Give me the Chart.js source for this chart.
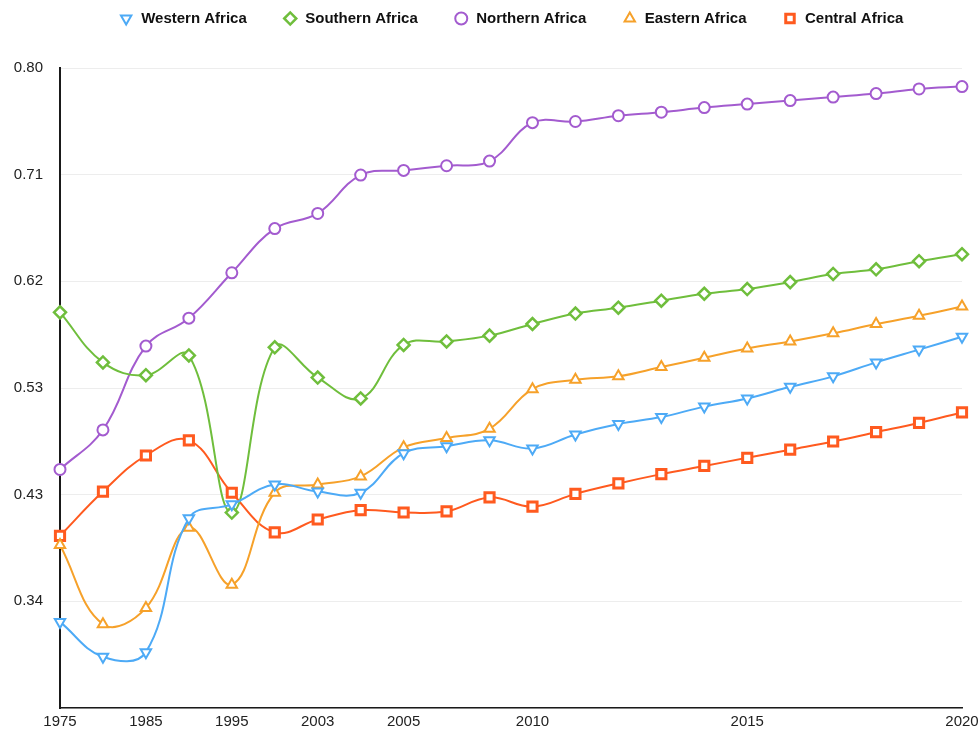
<!DOCTYPE html>
<html>
<head>
<meta charset="utf-8">
<script src="https://cdn.jsdelivr.net/npm/chart.js@4.4.1/dist/chart.umd.min.js"></script>
<style>
html,body{margin:0;padding:0;background:#ffffff;}
#wrap{width:980px;height:735px;position:relative;}
</style>
</head>
<body>
<div id="wrap"><canvas id="c"></canvas></div>
<script>
// ---- data ----
const years = ['1975','1980','1985','1990','1995','2000','2003','2004','2005','2007','2008',
               '2010','2011','2012','2013','2014','2015','2016','2017','2018','2019','2020'];
const shownYearLabels = ['1975','1985','1995','2003','2005','2010','2015','2020'];

const westernAfrica  = [0.324,0.294,0.298,0.413,0.425,0.442,0.436,0.435,0.469,0.475,0.480,
                        0.473,0.485,0.494,0.500,0.509,0.516,0.526,0.535,0.547,0.558,0.569];
const southernAfrica = [0.590,0.547,0.536,0.553,0.418,0.560,0.534,0.516,0.562,0.565,0.570,
                        0.580,0.589,0.594,0.600,0.606,0.610,0.616,0.623,0.627,0.634,0.640];
const northernAfrica = [0.455,0.489,0.561,0.585,0.624,0.662,0.675,0.708,0.712,0.716,0.720,
                        0.753,0.754,0.759,0.762,0.766,0.769,0.772,0.775,0.778,0.782,0.784];
const easternAfrica  = [0.390,0.322,0.336,0.405,0.356,0.435,0.442,0.449,0.474,0.482,0.490,
                        0.524,0.532,0.535,0.543,0.551,0.559,0.565,0.572,0.580,0.587,0.595];
const centralAfrica  = [0.398,0.436,0.467,0.480,0.435,0.401,0.412,0.420,0.418,0.419,0.431,
                        0.423,0.434,0.443,0.451,0.458,0.465,0.472,0.479,0.487,0.495,0.504];

const yTickLabels = ['','0.34','0.43','0.53','0.62','0.71','0.80'];
const Y_MIN = 0.25, Y_MAX = 0.80;

// ---- styles ----
const FONT = '"Liberation Sans", Arial, Helvetica, sans-serif';
const seriesDefs = [
  {label:'Western Africa',  data: westernAfrica,  color:'#4DAAF6', style:'triangle', rot:180, r:6,   bw:2},
  {label:'Southern Africa', data: southernAfrica, color:'#6FBE3C', style:'rectRot',  rot:0,   r:6,   bw:2.5},
  {label:'Northern Africa', data: northernAfrica, color:'#A35BCF', style:'circle',   rot:0,   r:5.5, bw:2},
  {label:'Eastern Africa',  data: easternAfrica,  color:'#F6A12A', style:'triangle', rot:0,   r:6,   bw:2},
  {label:'Central Africa',  data: centralAfrica,  color:'#FF5A1F', style:'rect',     rot:0,   r:6.5, bw:3}
];

const datasets = seriesDefs.map(s => ({
  label: s.label,
  data: s.data,
  borderColor: s.color,
  backgroundColor: s.color,
  borderWidth: 2,
  tension: 0.4,
  fill: false,
  clip: false,
  pointStyle: s.style,
  pointRotation: s.rot,
  pointRadius: s.r,
  pointBorderWidth: s.bw,
  pointBorderColor: s.color,
  pointBackgroundColor: '#ffffff'
}));

const legendSpacer = {
  id: 'legendSpacer',
  beforeLayout(chart) {
    const lg = chart.legend;
    if (lg && !lg._patched) {
      const orig = lg.fit;
      lg.fit = function() { orig.call(this); this.height += 32; };
      lg._patched = true;
    }
  }
};

new Chart(document.getElementById('c'), {
  type: 'line',
  data: { labels: years, datasets },
  plugins: [legendSpacer],
  options: {
    responsive: true,
    maintainAspectRatio: false,
    animation: false,
    layout: { padding: { top: -25, left: 10, right: 18, bottom: 0 } },
    plugins: {
      legend: {
        position: 'top',
        fullSize: false,
        labels: {
          usePointStyle: true,
          boxWidth: 15,
          boxHeight: 8.5,
          padding: 36,
          color: '#111',
          font: { family: FONT, size: 15, weight: 'bold' }
        }
      },
      tooltip: { enabled: false }
    },
    scales: {
      x: {
        grid: { display: false, drawTicks: false },
        border: { display: true, color: '#1a1a1a', width: 1.5 },
        afterFit: (scale) => { scale.height = 27; scale.paddingLeft = 0; scale.paddingRight = 0; },
        ticks: {
          autoSkip: false,
          maxRotation: 0,
          padding: 5,
          color: '#222',
          font: { family: FONT, size: 15 },
          callback: function(val) {
            const l = this.getLabelForValue(val);
            return shownYearLabels.includes(l) ? l : '';
          }
        }
      },
      y: {
        min: Y_MIN,
        max: Y_MAX,
        afterBuildTicks: (scale) => {
          const n = yTickLabels.length - 1;
          scale.ticks = yTickLabels.map((_, i) => ({ value: Y_MIN + (Y_MAX - Y_MIN) * i / n }));
        },
        afterFit: (scale) => { scale.width = 50; },
        grid: { color: 'rgba(0,0,0,0.07)', drawTicks: false, lineWidth: 1 },
        border: { display: true, color: '#1a1a1a', width: 2 },
        ticks: {
          padding: 17,
          color: '#222',
          font: { family: FONT, size: 15 },
          callback: (val, idx) => yTickLabels[idx]
        }
      }
    }
  }
});
</script>
</body>
</html>
